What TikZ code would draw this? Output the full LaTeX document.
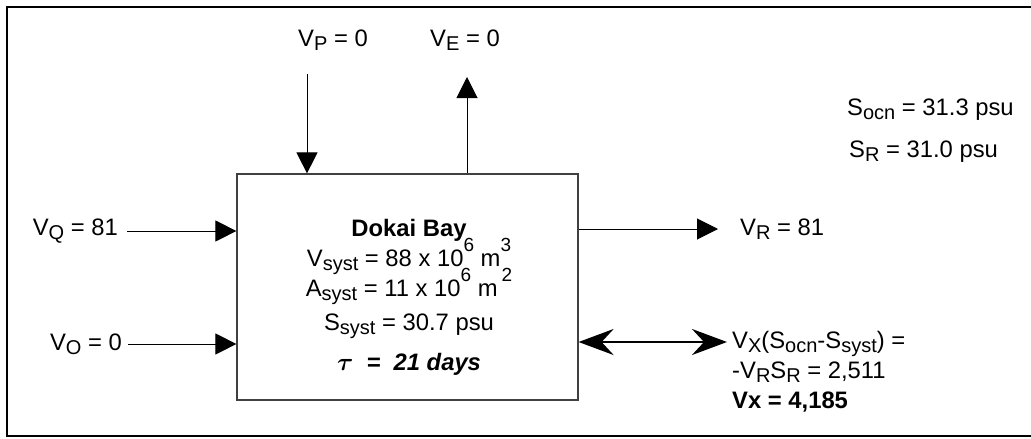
\documentclass[tikz,border=0pt]{standalone}
\usepackage{fontspec}
\setmainfont{Liberation Sans}
\usetikzlibrary{arrows.meta,positioning}
\newcommand\lo[1]{\lower0.3ex\hbox{\fontsize{20}{20}\selectfont #1}}
\newcommand\hi[1]{\raise1.2ex\hbox{\fontsize{19}{20}\selectfont #1}}

\begin{document}
\begin{tikzpicture}[
        x=1pt, y=-1pt,
        every node/.style={inner sep=0pt, font=\fontsize{23.8}{30}\selectfont},
        bayline/.style={anchor=base},
        flow/.style={-{Triangle[length=21pt,width=21pt]}, line width=1pt},
        mix/.style={{Stealth[length=35pt,width=26pt,inset=12pt]}-{Stealth[length=35pt,width=26pt,inset=12pt]}, line width=2.5pt}
    ]
    \useasboundingbox (0,0) rectangle (1031,439);
    \draw[line width=2.5pt] (7,7) rectangle (1040,436);
    % the bay
    \node[draw=black!75, line width=1.2pt, minimum width=341pt, minimum height=226pt] (bay) at (407.5,287) {};
    \node[bayline] (bayname) at (409,236.5) {\textbf{Dokai Bay}};
    \node[bayline] (bayvol) at (409,266.5) {V\lo{syst} = 88 x 10\hi{6} m\hi{3}};
    \node[bayline] (bayarea) at (409,296.5) {A\lo{syst} = 11 x 10\hi{6} m\,\hi{2}};
    \node[bayline] (baysalt) at (409,330.5) {S\lo{syst} = 30.7 psu};
    \node[bayline] (baytau) at (409,370.5) {\textbf{\textit{\boldmath$\tau$~~=~~21 days}}};
    % inflows
    \node[anchor=east] (vq) at (118,231) {V\lo{Q} = 81};
    \node[anchor=east] (vo) at (122,344) {V\lo{O} = 0};
    \draw[flow, shorten <=9pt] (vq) -- (vq -| bay.west);
    \draw[flow, shorten <=6pt] (vo) -- (vo -| bay.west);
    \node[anchor=west] (vp) at (298,40) {V\lo{P} = 0};
    \node[anchor=west] (ve) at (430,40) {V\lo{E} = 0};
    \coordinate (vpin) at (307,74);
    \coordinate (veout) at (467,77);
    \draw[flow] (vpin) -- (vpin |- bay.north);
    \draw[flow] (veout |- bay.north) -- (veout);
    % outflow and exchange
    \coordinate (vrtip) at (718,229);
    \draw[flow] (vrtip -| bay.east) -- (vrtip);
    \node[right=22pt of vrtip] (vr) {V\lo{R} = 81};
    \coordinate (mixend) at (727,342);
    \draw[mix] (mixend -| bay.east) -- (mixend);
    \node[anchor=west, align=left] (vx) at (732,372) {V\lo{X}(S\lo{ocn}-S\lo{syst}) =\\
        -V\lo{R}S\lo{R} = 2,511\\
        \textbf{Vx = 4,185}};
    % salinities
    \node[anchor=west] (socn) at (847,110) {S\lo{ocn} = 31.3 psu};
    \node[anchor=west] (sr) at (849,152) {S\lo{R} = 31.0 psu};
\end{tikzpicture}
\end{document}
